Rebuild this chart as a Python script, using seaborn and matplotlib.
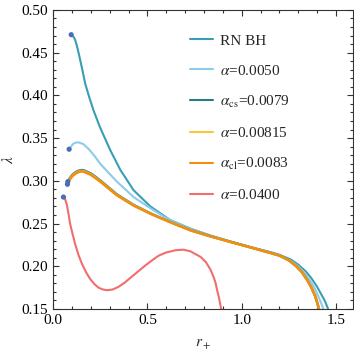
import numpy as np
import pandas as pd
import matplotlib
matplotlib.use('Agg')
import matplotlib.pyplot as plt
from matplotlib.ticker import MultipleLocator
import seaborn as sns

# curve data
rn_x = [0.096, 0.107, 0.117, 0.126, 0.135, 0.153, 0.170, 0.19, 0.215, 0.25, 0.303, 0.356,
        0.427, 0.516, 0.622, 0.729, 0.835, 0.941, 1.048, 1.154, 1.20, 1.26, 1.30, 1.34,
        1.37, 1.40, 1.42, 1.44, 1.455, 1.465]
rn_y = [0.471, 0.469, 0.465, 0.458, 0.450, 0.432, 0.414, 0.399, 0.382, 0.362, 0.336, 0.313,
        0.289, 0.270, 0.254, 0.244, 0.236, 0.229, 0.2225, 0.2165, 0.2135, 0.208, 0.202, 0.194,
        0.186, 0.176, 0.168, 0.160, 0.152, 0.145]

a1_x = [0.085, 0.095, 0.105, 0.12, 0.135, 0.16, 0.19, 0.22, 0.25, 0.30, 0.339, 0.427, 0.516,
        0.585, 0.65, 0.73, 0.835, 0.941, 1.048, 1.154, 1.20, 1.26, 1.30, 1.34, 1.37, 1.39,
        1.41, 1.425, 1.438, 1.442]
a1_y = [0.337, 0.340, 0.343, 0.3448, 0.345, 0.343, 0.337, 0.329, 0.320, 0.308, 0.299, 0.281,
        0.268, 0.2585, 0.251, 0.2435, 0.2357, 0.2288, 0.2222, 0.216, 0.213, 0.2065, 0.200,
        0.1905, 0.181, 0.173, 0.163, 0.155, 0.147, 0.143]

grp_x = [0.076, 0.083, 0.09, 0.10, 0.11, 0.12, 0.13, 0.142, 0.153, 0.165, 0.18, 0.20, 0.223,
         0.25, 0.30, 0.339, 0.427, 0.516, 0.569, 0.65, 0.73, 0.835, 0.941, 1.048, 1.154, 1.20,
         1.25, 1.29, 1.32, 1.35, 1.37, 1.39, 1.40, 1.41, 1.415]
cl_y = [0.297, 0.2995, 0.302, 0.305, 0.307, 0.3085, 0.3098, 0.3106, 0.311, 0.3105, 0.309,
        0.307, 0.3035, 0.299, 0.290, 0.283, 0.271, 0.2615, 0.2565, 0.249, 0.242, 0.235, 0.2285,
        0.222, 0.2155, 0.2125, 0.207, 0.200, 0.193, 0.183, 0.175, 0.165, 0.158, 0.150, 0.145]
cs_y = [0.2985, 0.301, 0.3035, 0.3065, 0.3085, 0.3101, 0.3114, 0.3122, 0.3126, 0.3121,
        0.3106, 0.3086, 0.305, 0.3004, 0.2912, 0.284, 0.2718, 0.262, 0.2568, 0.2492, 0.2421,
        0.2351, 0.2286, 0.2221, 0.2156, 0.2126, 0.2071, 0.2001, 0.1931, 0.1831, 0.1751, 0.1651,
        0.158, 0.150, 0.145]
yl_y = [0.2978, 0.3003, 0.3028, 0.3058, 0.3078, 0.3093, 0.3106, 0.3114, 0.3118, 0.3113,
        0.3098, 0.3078, 0.3043, 0.2997, 0.2906, 0.2835, 0.2714, 0.2617, 0.2566, 0.2491, 0.2420,
        0.2350, 0.2285, 0.2220, 0.2155, 0.2125, 0.2070, 0.2000, 0.1930, 0.1830, 0.1750, 0.1650,
        0.158, 0.150, 0.145]

red_x = [0.055, 0.063, 0.073, 0.082, 0.090, 0.103, 0.117, 0.135, 0.153, 0.175, 0.197, 0.22,
         0.241, 0.265, 0.286, 0.315, 0.347, 0.38, 0.418, 0.455, 0.489, 0.525, 0.560, 0.60,
         0.649, 0.69, 0.729, 0.782, 0.81, 0.835, 0.852, 0.862, 0.872, 0.879, 0.886, 0.892,
         0.895]
red_y = [0.281, 0.279, 0.272, 0.261, 0.250, 0.238, 0.226, 0.213, 0.203, 0.193, 0.185, 0.179,
         0.175, 0.1728, 0.172, 0.1728, 0.176, 0.181, 0.188, 0.1948, 0.201, 0.207, 0.2125,
         0.2162, 0.2188, 0.2195, 0.2175, 0.211, 0.205, 0.196, 0.187, 0.180, 0.170, 0.164,
         0.156, 0.149, 0.140]

start_x = [0.096, 0.085, 0.076, 0.078, 0.055]
start_y = [0.471, 0.337, 0.296, 0.299, 0.281]

sns.set_style('ticks')
plt.rcParams['font.family'] = ['Liberation Serif', 'DejaVu Serif']
plt.rcParams['mathtext.fontset'] = 'stix'
plt.rcParams['font.size'] = 11

fig = plt.figure(figsize=(3.54, 3.54), dpi=100)
ax = fig.add_axes([0.150, 0.127, 0.847, 0.845])

sns.lineplot(x=rn_x, y=rn_y, color='#3a9db5', lw=1.5, label='RN BH', ax=ax)
sns.lineplot(x=a1_x, y=a1_y, color='#8dcbea', lw=1.5, label=r'$\alpha$=0.0050', ax=ax)
sns.lineplot(x=grp_x, y=cs_y, color='#2b7889', lw=1.8, label=r'$\alpha_{\rm cs}$=0.0079', ax=ax)
sns.lineplot(x=grp_x, y=yl_y, color='#f7c43a', lw=1.6, label=r'$\alpha$=0.00815', ax=ax)
sns.lineplot(x=grp_x, y=cl_y, color='#f28e0c', lw=1.8, label=r'$\alpha_{\rm cl}$=0.0083', ax=ax)
sns.lineplot(x=red_x, y=red_y, color='#f26d70', lw=1.5, label=r'$\alpha$=0.0400', ax=ax)
sns.scatterplot(x=start_x, y=start_y, color='#4a6db5', s=14, edgecolor='none', zorder=5, ax=ax)

ax.set_xlim(0, 1.59)
ax.set_ylim(0.15, 0.50)
ax.xaxis.set_major_locator(MultipleLocator(0.5))
ax.xaxis.set_minor_locator(MultipleLocator(0.1))
ax.yaxis.set_major_locator(MultipleLocator(0.05))
ax.yaxis.set_minor_locator(MultipleLocator(0.01))
ax.xaxis.set_major_formatter(plt.FormatStrFormatter('%.1f'))
ax.yaxis.set_major_formatter(plt.FormatStrFormatter('%.2f'))
ax.tick_params(which='both', direction='in', top=True, right=True, width=0.8, colors='#333333',
               labelcolor='black', labelsize=11)
ax.tick_params(which='major', length=4)
ax.tick_params(which='minor', length=2)
for s in ax.spines.values():
    s.set_linewidth(0.8)
    s.set_color('#333333')

ax.set_xlabel(r'$r_+$', fontsize=11, labelpad=8)
ax.set_ylabel(r'$\tilde{\lambda}$', fontsize=11, labelpad=3)

leg = ax.legend(loc='upper left', bbox_to_anchor=(0.435, 0.94), frameon=False, fontsize=11,
                handlelength=1.5, handletextpad=0.5, labelspacing=1.05, borderaxespad=0)
for h in leg.get_lines():
    h.set_linewidth(1.5)

fig.savefig('out.png', dpi=100)
